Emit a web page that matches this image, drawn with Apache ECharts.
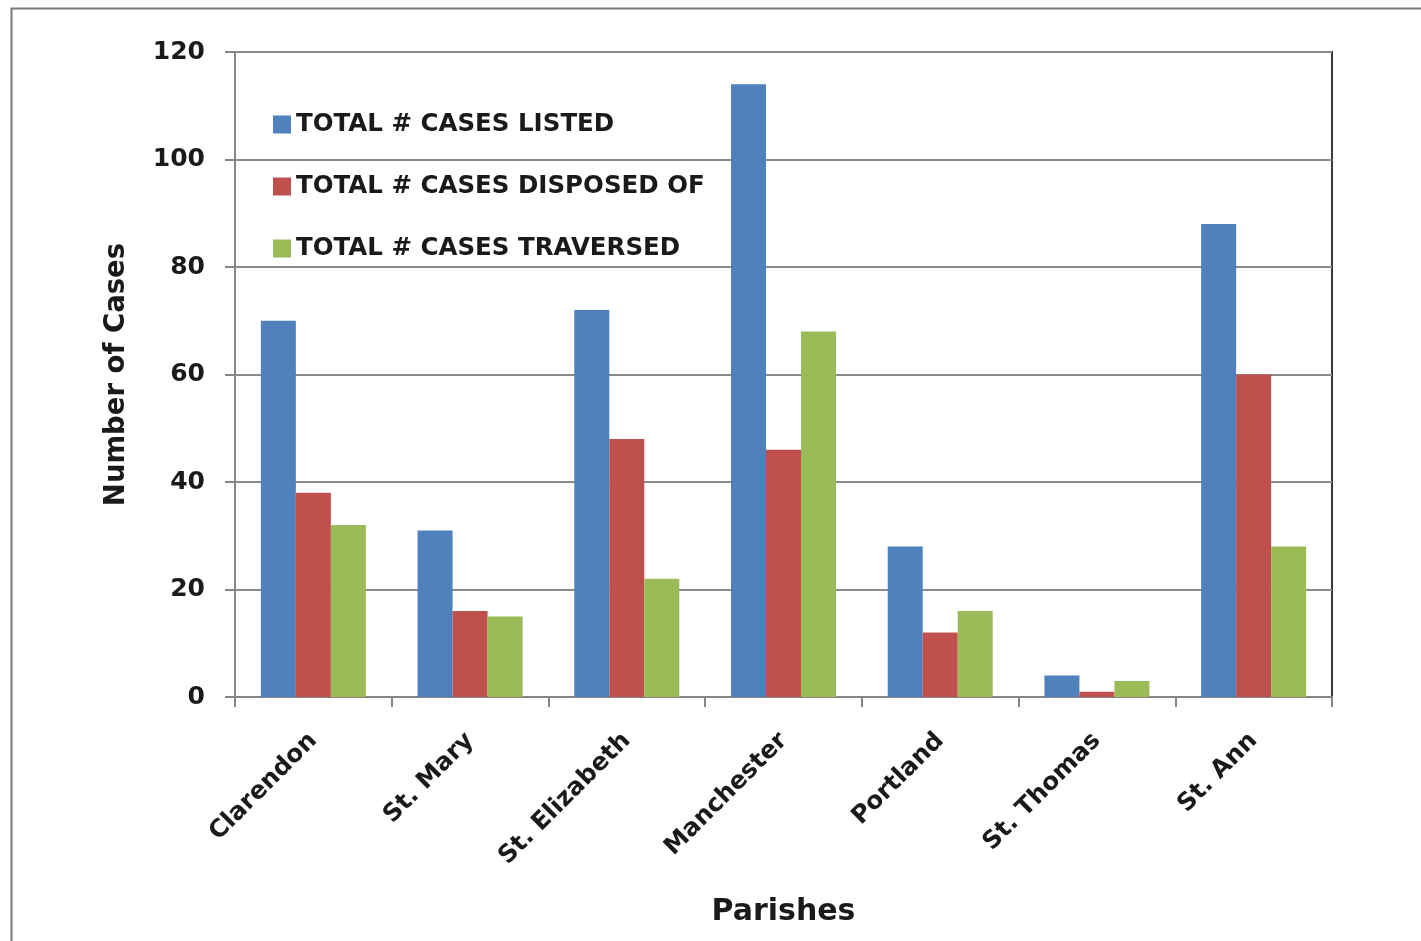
<!DOCTYPE html>
<html>
<head>
<meta charset="utf-8">
<script src="https://cdn.jsdelivr.net/npm/echarts@6/dist/echarts.min.js"></script>
<style>
html,body{margin:0;padding:0;background:#fff;}
#chart{width:1421px;height:941px;}
</style>
</head>
<body>
<div id="chart"></div>
<script>
const categories = ['Clarendon', 'St. Mary', 'St. Elizabeth', 'Manchester', 'Portland', 'St. Thomas', 'St. Ann'];
const seriesNames = ['TOTAL # CASES LISTED', 'TOTAL # CASES DISPOSED OF', 'TOTAL # CASES TRAVERSED'];
const listed = [70, 31, 72, 114, 28, 4, 88];
const disposedOf = [38, 16, 48, 46, 12, 1, 60];
const traversed = [32, 15, 22, 68, 16, 3, 28];
const colors = ['#4F81BD', '#C0504D', '#9BBB59'];

const FONT = '"DejaVu Sans", "Open Sans", sans-serif';
const chart = echarts.init(document.getElementById('chart'));
const mk = (name, data, color) => ({
  name: name, type: 'bar', data: data, barGap: '0%', barCategoryGap: '33%',
  itemStyle: { color: color }, z: 3
});
chart.setOption({
  animation: false,
  backgroundColor: '#fff',
  graphic: [{
    type: 'rect', left: 9, top: 6, z: 0,
    shape: { x: 0, y: 0, width: 1500, height: 1000 },
    style: { fill: 'none', stroke: '#7a7a7a', lineWidth: 2 }
  }],
  grid: { left: 235, right: 89, top: 52, bottom: 244, show: true, borderColor: '#3a3a3a', borderWidth: 2, backgroundColor: 'transparent' },
  legend: {
    orient: 'vertical', left: 268, top: 107, itemGap: 37,
    itemWidth: 18, itemHeight: 18, icon: 'rect',
    textStyle: { fontFamily: FONT, fontWeight: 'bold', fontSize: 24.5, lineHeight: 25, color: '#1a1a1a', padding: [0, 0, 0, 0] },
    data: seriesNames
  },
  xAxis: {
    type: 'category', data: categories,
    name: 'Parishes', nameLocation: 'middle', nameGap: 200,
    nameTextStyle: { fontFamily: FONT, fontWeight: 'bold', fontSize: 30, color: '#1a1a1a' },
    axisLine: { lineStyle: { color: '#868686', width: 2 } },
    axisTick: { show: true, length: 10, lineStyle: { color: '#868686', width: 2 } },
    axisLabel: { rotate: 45, fontFamily: FONT, fontWeight: 'bold', fontSize: 24.5, color: '#1a1a1a', margin: 40 }
  },
  yAxis: {
    type: 'value', min: 0, max: 120, interval: 20,
    name: 'Number of Cases', nameLocation: 'middle', nameGap: 104, nameRotate: 90,
    nameTextStyle: { fontFamily: FONT, fontWeight: 'bold', fontSize: 27.5, color: '#1a1a1a' },
    axisLine: { show: true, lineStyle: { color: '#868686', width: 2 } },
    axisTick: { show: true, length: 10, lineStyle: { color: '#868686', width: 2 } },
    splitLine: { lineStyle: { color: '#8a8a8a', width: 2 } },
    axisLabel: { fontFamily: FONT, fontWeight: 'bold', fontSize: 25, color: '#1a1a1a', margin: 30 }
  },
  series: [mk(seriesNames[0], listed, colors[0]), mk(seriesNames[1], disposedOf, colors[1]), mk(seriesNames[2], traversed, colors[2])]
});
</script>
</body>
</html>
